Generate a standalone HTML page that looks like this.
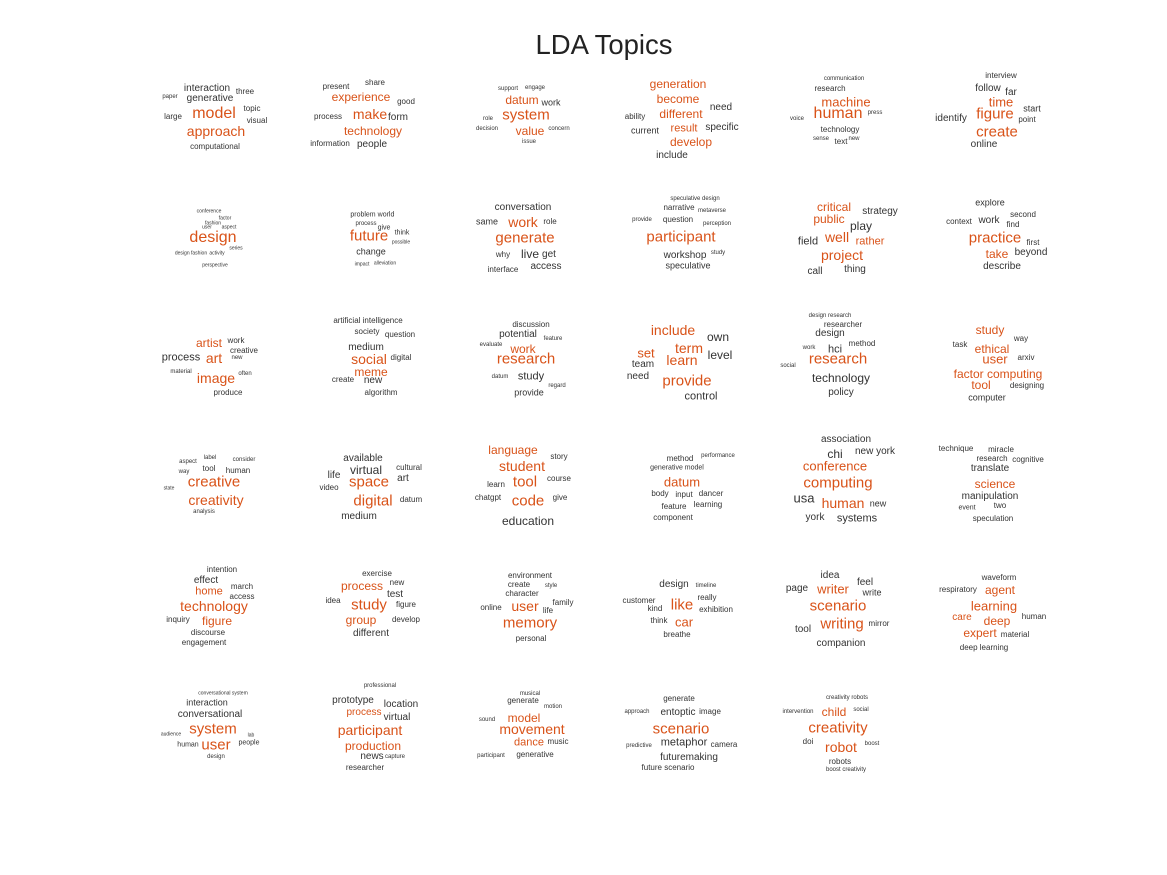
<!DOCTYPE html>
<html><head><meta charset="utf-8"><style>
html,body{margin:0;padding:0;background:#fff}
#c{position:relative;width:1167px;height:875px;overflow:hidden;font-family:"Liberation Sans",Arial,sans-serif}
#c b{position:absolute;font-weight:normal;white-space:nowrap;transform:translate(-50%,-50%);color:#333;line-height:1}
#c b.o{color:#d95319}
h1{position:absolute;left:304px;width:600px;top:29px;margin:0;text-align:center;font-weight:normal;font-size:27.5px;color:#222;font-family:"Liberation Sans",Arial,sans-serif}
</style></head><body><div id="c">
<h1>LDA Topics</h1>
<!-- Row 1 -->
<b style="left:207px;top:89px;font-size:10px">interaction</b><b style="left:245px;top:92px;font-size:8px">three</b><b style="left:170px;top:97px;font-size:6px">paper</b><b style="left:210px;top:99px;font-size:10px">generative</b><b style="left:252px;top:109px;font-size:8px">topic</b><b style="left:173px;top:117px;font-size:8px">large</b><b class="o" style="left:214px;top:114px;font-size:16px">model</b><b style="left:257px;top:121px;font-size:8px">visual</b><b class="o" style="left:216px;top:131px;font-size:14px">approach</b><b style="left:215px;top:147px;font-size:8px">computational</b>
<b style="left:336px;top:87px;font-size:8px">present</b><b style="left:375px;top:83px;font-size:8px">share</b><b class="o" style="left:361px;top:97px;font-size:12px">experience</b><b style="left:406px;top:102px;font-size:8px">good</b><b style="left:328px;top:117px;font-size:8px">process</b><b class="o" style="left:370px;top:114px;font-size:14px">make</b><b style="left:398px;top:118px;font-size:10px">form</b><b class="o" style="left:373px;top:131px;font-size:12px">technology</b><b style="left:330px;top:144px;font-size:8px">information</b><b style="left:372px;top:145px;font-size:10px">people</b>
<b style="left:508px;top:89px;font-size:6px">support</b><b style="left:535px;top:88px;font-size:6px">engage</b><b class="o" style="left:522px;top:100px;font-size:12px">datum</b><b style="left:551px;top:103px;font-size:9px">work</b><b style="left:488px;top:119px;font-size:6px">role</b><b class="o" style="left:526px;top:115px;font-size:15px">system</b><b style="left:487px;top:129px;font-size:6px">decision</b><b class="o" style="left:530px;top:131px;font-size:12px">value</b><b style="left:559px;top:129px;font-size:6px">concern</b><b style="left:529px;top:142px;font-size:6px">issue</b>
<b class="o" style="left:678px;top:84px;font-size:12px">generation</b><b class="o" style="left:678px;top:99px;font-size:12px">become</b><b style="left:721px;top:108px;font-size:10px">need</b><b style="left:635px;top:117px;font-size:8px">ability</b><b class="o" style="left:681px;top:114px;font-size:12px">different</b><b style="left:722px;top:128px;font-size:10px">specific</b><b style="left:645px;top:131px;font-size:9px">current</b><b class="o" style="left:684px;top:129px;font-size:11px">result</b><b class="o" style="left:691px;top:142px;font-size:12px">develop</b><b style="left:672px;top:156px;font-size:10px">include</b>
<b style="left:844px;top:79px;font-size:6px">communication</b><b style="left:830px;top:89px;font-size:8px">research</b><b class="o" style="left:846px;top:102px;font-size:13px">machine</b><b style="left:875px;top:113px;font-size:6px">press</b><b style="left:797px;top:119px;font-size:6px">voice</b><b class="o" style="left:838px;top:114px;font-size:16px">human</b><b style="left:840px;top:130px;font-size:8px">technology</b><b style="left:854px;top:139px;font-size:6px">new</b><b style="left:821px;top:139px;font-size:6px">sense</b><b style="left:841px;top:142px;font-size:8px">text</b>
<b style="left:1001px;top:76px;font-size:8px">interview</b><b style="left:988px;top:89px;font-size:10px">follow</b><b style="left:1011px;top:93px;font-size:10px">far</b><b class="o" style="left:1001px;top:102px;font-size:13px">time</b><b class="o" style="left:995px;top:114px;font-size:15px">figure</b><b style="left:1032px;top:109px;font-size:9px">start</b><b style="left:951px;top:119px;font-size:10px">identify</b><b style="left:1027px;top:120px;font-size:8px">point</b><b class="o" style="left:997px;top:132px;font-size:15px">create</b><b style="left:984px;top:145px;font-size:10px">online</b>
<!-- Row 2 -->
<b style="left:209px;top:212px;font-size:5px">conference</b><b style="left:225px;top:219px;font-size:5px">factor</b><b style="left:213px;top:224px;font-size:5px">fashion</b><b style="left:207px;top:228px;font-size:5px">user</b><b style="left:229px;top:228px;font-size:5px">aspect</b><b class="o" style="left:213px;top:238px;font-size:16px">design</b><b style="left:236px;top:249px;font-size:5px">series</b><b style="left:191px;top:254px;font-size:5px">design fashion</b><b style="left:217px;top:254px;font-size:5px">activity</b><b style="left:215px;top:266px;font-size:5px">perspective</b>
<b style="left:363px;top:215px;font-size:7px">problem</b><b style="left:386px;top:215px;font-size:7px">world</b><b style="left:366px;top:224px;font-size:6px">process</b><b style="left:384px;top:228px;font-size:7px">give</b><b style="left:402px;top:233px;font-size:7px">think</b><b class="o" style="left:369px;top:236px;font-size:15px">future</b><b style="left:401px;top:243px;font-size:5px">possible</b><b style="left:371px;top:252px;font-size:9px">change</b><b style="left:362px;top:265px;font-size:5px">impact</b><b style="left:385px;top:264px;font-size:5px">alleviation</b>
<b style="left:523px;top:208px;font-size:10px">conversation</b><b style="left:487px;top:222px;font-size:9px">same</b><b class="o" style="left:523px;top:222px;font-size:14px">work</b><b style="left:550px;top:222px;font-size:8px">role</b><b class="o" style="left:525px;top:238px;font-size:15px">generate</b><b style="left:503px;top:255px;font-size:8px">why</b><b style="left:530px;top:254px;font-size:12px">live</b><b style="left:549px;top:255px;font-size:10px">get</b><b style="left:546px;top:267px;font-size:10px">access</b><b style="left:503px;top:270px;font-size:8px">interface</b>
<b style="left:695px;top:199px;font-size:6px">speculative design</b><b style="left:679px;top:208px;font-size:8px">narrative</b><b style="left:712px;top:211px;font-size:6px">metaverse</b><b style="left:642px;top:220px;font-size:6px">provide</b><b style="left:678px;top:220px;font-size:8px">question</b><b style="left:717px;top:224px;font-size:6px">perception</b><b class="o" style="left:681px;top:237px;font-size:15px">participant</b><b style="left:685px;top:256px;font-size:10px">workshop</b><b style="left:718px;top:253px;font-size:6px">study</b><b style="left:688px;top:266px;font-size:9px">speculative</b>
<b class="o" style="left:834px;top:207px;font-size:12px">critical</b><b class="o" style="left:829px;top:219px;font-size:12px">public</b><b style="left:880px;top:212px;font-size:10px">strategy</b><b style="left:861px;top:226px;font-size:12px">play</b><b style="left:808px;top:242px;font-size:11px">field</b><b class="o" style="left:837px;top:237px;font-size:14px">well</b><b class="o" style="left:870px;top:242px;font-size:11px">rather</b><b class="o" style="left:842px;top:255px;font-size:14px">project</b><b style="left:815px;top:272px;font-size:10px">call</b><b style="left:855px;top:270px;font-size:10px">thing</b>
<b style="left:990px;top:203px;font-size:9px">explore</b><b style="left:959px;top:222px;font-size:8px">context</b><b style="left:989px;top:221px;font-size:10px">work</b><b style="left:1023px;top:215px;font-size:8px">second</b><b style="left:1013px;top:225px;font-size:8px">find</b><b class="o" style="left:995px;top:238px;font-size:15px">practice</b><b style="left:1033px;top:243px;font-size:8px">first</b><b class="o" style="left:997px;top:254px;font-size:12px">take</b><b style="left:1031px;top:253px;font-size:10px">beyond</b><b style="left:1002px;top:267px;font-size:10px">describe</b>
<!-- Row 3 -->
<b class="o" style="left:209px;top:343px;font-size:12px">artist</b><b style="left:236px;top:341px;font-size:8px">work</b><b style="left:244px;top:351px;font-size:8px">creative</b><b style="left:181px;top:358px;font-size:11px">process</b><b class="o" style="left:214px;top:358px;font-size:14px">art</b><b style="left:237px;top:358px;font-size:6px">new</b><b style="left:181px;top:372px;font-size:6px">material</b><b class="o" style="left:216px;top:378px;font-size:14px">image</b><b style="left:245px;top:374px;font-size:6px">often</b><b style="left:228px;top:393px;font-size:8px">produce</b>
<b style="left:368px;top:321px;font-size:8px">artificial intelligence</b><b style="left:367px;top:332px;font-size:8px">society</b><b style="left:400px;top:335px;font-size:8px">question</b><b style="left:366px;top:348px;font-size:10px">medium</b><b class="o" style="left:369px;top:359px;font-size:14px">social</b><b style="left:401px;top:358px;font-size:8px">digital</b><b class="o" style="left:371px;top:372px;font-size:12px">meme</b><b style="left:343px;top:380px;font-size:8px">create</b><b style="left:373px;top:381px;font-size:10px">new</b><b style="left:381px;top:393px;font-size:8px">algorithm</b>
<b style="left:531px;top:325px;font-size:8px">discussion</b><b style="left:518px;top:335px;font-size:10px">potential</b><b style="left:553px;top:339px;font-size:6px">feature</b><b style="left:491px;top:345px;font-size:6px">evaluate</b><b class="o" style="left:523px;top:349px;font-size:12px">work</b><b class="o" style="left:526px;top:359px;font-size:15px">research</b><b style="left:500px;top:377px;font-size:6px">datum</b><b style="left:531px;top:377px;font-size:11px">study</b><b style="left:557px;top:386px;font-size:6px">regard</b><b style="left:529px;top:393px;font-size:9px">provide</b>
<b class="o" style="left:673px;top:330px;font-size:14px">include</b><b style="left:718px;top:337px;font-size:12px">own</b><b class="o" style="left:689px;top:348px;font-size:14px">term</b><b class="o" style="left:646px;top:353px;font-size:13px">set</b><b style="left:720px;top:355px;font-size:12px">level</b><b class="o" style="left:682px;top:360px;font-size:14px">learn</b><b style="left:643px;top:365px;font-size:10px">team</b><b style="left:638px;top:377px;font-size:10px">need</b><b class="o" style="left:687px;top:381px;font-size:15px">provide</b><b style="left:701px;top:397px;font-size:11px">control</b>
<b style="left:830px;top:316px;font-size:6px">design research</b><b style="left:843px;top:325px;font-size:8px">researcher</b><b style="left:830px;top:334px;font-size:10px">design</b><b style="left:862px;top:344px;font-size:8px">method</b><b style="left:809px;top:348px;font-size:6px">work</b><b style="left:835px;top:350px;font-size:11px">hci</b><b class="o" style="left:838px;top:359px;font-size:15px">research</b><b style="left:788px;top:366px;font-size:6px">social</b><b style="left:841px;top:378px;font-size:12px">technology</b><b style="left:841px;top:393px;font-size:10px">policy</b>
<b class="o" style="left:990px;top:330px;font-size:12px">study</b><b style="left:1021px;top:339px;font-size:8px">way</b><b style="left:960px;top:345px;font-size:8px">task</b><b class="o" style="left:992px;top:349px;font-size:12px">ethical</b><b class="o" style="left:995px;top:359px;font-size:13px">user</b><b style="left:1026px;top:358px;font-size:8px">arxiv</b><b class="o" style="left:998px;top:374px;font-size:12px">factor computing</b><b class="o" style="left:981px;top:385px;font-size:12px">tool</b><b style="left:1027px;top:386px;font-size:8px">designing</b><b style="left:987px;top:398px;font-size:9px">computer</b>
<!-- Row 4 -->
<b style="left:188px;top:462px;font-size:6px">aspect</b><b style="left:210px;top:458px;font-size:6px">label</b><b style="left:244px;top:460px;font-size:6px">consider</b><b style="left:209px;top:469px;font-size:8px">tool</b><b style="left:184px;top:472px;font-size:6px">way</b><b style="left:238px;top:471px;font-size:8px">human</b><b class="o" style="left:214px;top:482px;font-size:15px">creative</b><b style="left:169px;top:489px;font-size:5px">state</b><b class="o" style="left:216px;top:500px;font-size:14px">creativity</b><b style="left:204px;top:512px;font-size:6px">analysis</b>
<b style="left:363px;top:459px;font-size:10px">available</b><b style="left:409px;top:468px;font-size:8px">cultural</b><b style="left:366px;top:470px;font-size:12px">virtual</b><b style="left:334px;top:476px;font-size:10px">life</b><b style="left:403px;top:479px;font-size:10px">art</b><b class="o" style="left:369px;top:482px;font-size:15px">space</b><b style="left:329px;top:488px;font-size:8px">video</b><b class="o" style="left:373px;top:501px;font-size:15px">digital</b><b style="left:411px;top:500px;font-size:8px">datum</b><b style="left:359px;top:517px;font-size:10px">medium</b>
<b class="o" style="left:513px;top:450px;font-size:12px">language</b><b style="left:559px;top:457px;font-size:8px">story</b><b class="o" style="left:522px;top:466px;font-size:14px">student</b><b style="left:496px;top:485px;font-size:8px">learn</b><b class="o" style="left:525px;top:482px;font-size:15px">tool</b><b style="left:559px;top:479px;font-size:8px">course</b><b style="left:488px;top:498px;font-size:8px">chatgpt</b><b class="o" style="left:528px;top:501px;font-size:15px">code</b><b style="left:560px;top:498px;font-size:8px">give</b><b style="left:528px;top:521px;font-size:12px">education</b>
<b style="left:680px;top:459px;font-size:8px">method</b><b style="left:718px;top:456px;font-size:6px">performance</b><b style="left:677px;top:468px;font-size:7px">generative model</b><b class="o" style="left:682px;top:482px;font-size:13px">datum</b><b style="left:660px;top:494px;font-size:8px">body</b><b style="left:684px;top:495px;font-size:8px">input</b><b style="left:711px;top:494px;font-size:8px">dancer</b><b style="left:674px;top:507px;font-size:8px">feature</b><b style="left:708px;top:505px;font-size:8px">learning</b><b style="left:673px;top:518px;font-size:8px">component</b>
<b style="left:846px;top:440px;font-size:10px">association</b><b style="left:835px;top:454px;font-size:12px">chi</b><b style="left:875px;top:452px;font-size:10px">new york</b><b class="o" style="left:835px;top:466px;font-size:13px">conference</b><b class="o" style="left:838px;top:483px;font-size:15px">computing</b><b style="left:804px;top:498px;font-size:13px">usa</b><b class="o" style="left:843px;top:503px;font-size:14px">human</b><b style="left:878px;top:504px;font-size:9px">new</b><b style="left:815px;top:518px;font-size:10px">york</b><b style="left:857px;top:519px;font-size:11px">systems</b>
<b style="left:956px;top:449px;font-size:8px">technique</b><b style="left:1001px;top:450px;font-size:8px">miracle</b><b style="left:992px;top:459px;font-size:8px">research</b><b style="left:1028px;top:460px;font-size:8px">cognitive</b><b style="left:990px;top:469px;font-size:10px">translate</b><b class="o" style="left:995px;top:484px;font-size:12px">science</b><b style="left:990px;top:497px;font-size:10px">manipulation</b><b style="left:967px;top:508px;font-size:7px">event</b><b style="left:1000px;top:506px;font-size:8px">two</b><b style="left:993px;top:519px;font-size:8px">speculation</b>
<!-- Row 5 -->
<b style="left:222px;top:570px;font-size:8px">intention</b><b style="left:206px;top:581px;font-size:10px">effect</b><b style="left:242px;top:587px;font-size:8px">march</b><b class="o" style="left:209px;top:592px;font-size:11px">home</b><b style="left:242px;top:597px;font-size:8px">access</b><b class="o" style="left:214px;top:606px;font-size:14px">technology</b><b style="left:178px;top:620px;font-size:8px">inquiry</b><b class="o" style="left:217px;top:621px;font-size:12px">figure</b><b style="left:208px;top:633px;font-size:8px">discourse</b><b style="left:204px;top:643px;font-size:8px">engagement</b>
<b style="left:377px;top:574px;font-size:8px">exercise</b><b style="left:397px;top:583px;font-size:8px">new</b><b class="o" style="left:362px;top:586px;font-size:12px">process</b><b style="left:395px;top:595px;font-size:10px">test</b><b style="left:333px;top:601px;font-size:8px">idea</b><b class="o" style="left:369px;top:605px;font-size:15px">study</b><b style="left:406px;top:605px;font-size:8px">figure</b><b class="o" style="left:361px;top:620px;font-size:12px">group</b><b style="left:406px;top:620px;font-size:8px">develop</b><b style="left:371px;top:634px;font-size:10px">different</b>
<b style="left:530px;top:576px;font-size:8px">environment</b><b style="left:519px;top:585px;font-size:8px">create</b><b style="left:551px;top:586px;font-size:6px">style</b><b style="left:522px;top:594px;font-size:8px">character</b><b style="left:563px;top:603px;font-size:8px">family</b><b style="left:491px;top:608px;font-size:8px">online</b><b class="o" style="left:525px;top:606px;font-size:14px">user</b><b style="left:548px;top:611px;font-size:8px">life</b><b class="o" style="left:530px;top:623px;font-size:15px">memory</b><b style="left:531px;top:639px;font-size:8px">personal</b>
<b style="left:674px;top:585px;font-size:10px">design</b><b style="left:706px;top:586px;font-size:6px">timeline</b><b style="left:639px;top:601px;font-size:8px">customer</b><b style="left:707px;top:598px;font-size:8px">really</b><b class="o" style="left:682px;top:605px;font-size:15px">like</b><b style="left:655px;top:609px;font-size:8px">kind</b><b style="left:716px;top:610px;font-size:8px">exhibition</b><b style="left:659px;top:621px;font-size:8px">think</b><b class="o" style="left:684px;top:622px;font-size:13px">car</b><b style="left:677px;top:635px;font-size:8px">breathe</b>
<b style="left:830px;top:576px;font-size:10px">idea</b><b style="left:865px;top:583px;font-size:10px">feel</b><b style="left:797px;top:589px;font-size:10px">page</b><b class="o" style="left:833px;top:589px;font-size:13px">writer</b><b style="left:872px;top:593px;font-size:9px">write</b><b class="o" style="left:838px;top:606px;font-size:15px">scenario</b><b style="left:803px;top:630px;font-size:10px">tool</b><b class="o" style="left:842px;top:624px;font-size:15px">writing</b><b style="left:879px;top:624px;font-size:8px">mirror</b><b style="left:841px;top:644px;font-size:10px">companion</b>
<b style="left:999px;top:578px;font-size:8px">waveform</b><b style="left:958px;top:590px;font-size:8px">respiratory</b><b class="o" style="left:1000px;top:590px;font-size:12px">agent</b><b class="o" style="left:994px;top:606px;font-size:13px">learning</b><b style="left:1034px;top:617px;font-size:8px">human</b><b class="o" style="left:962px;top:618px;font-size:10px">care</b><b class="o" style="left:997px;top:621px;font-size:12px">deep</b><b class="o" style="left:980px;top:633px;font-size:12px">expert</b><b style="left:1015px;top:635px;font-size:8px">material</b><b style="left:984px;top:648px;font-size:8px">deep learning</b>
<!-- Row 6 -->
<b style="left:223px;top:694px;font-size:5px">conversational system</b><b style="left:207px;top:703px;font-size:9px">interaction</b><b style="left:210px;top:715px;font-size:10px">conversational</b><b class="o" style="left:213px;top:729px;font-size:15px">system</b><b style="left:171px;top:735px;font-size:5px">audience</b><b style="left:251px;top:736px;font-size:5px">lab</b><b style="left:188px;top:745px;font-size:7px">human</b><b class="o" style="left:216px;top:745px;font-size:15px">user</b><b style="left:249px;top:743px;font-size:7px">people</b><b style="left:216px;top:757px;font-size:6px">design</b>
<b style="left:380px;top:686px;font-size:6px">professional</b><b style="left:353px;top:701px;font-size:10px">prototype</b><b style="left:401px;top:705px;font-size:10px">location</b><b class="o" style="left:364px;top:713px;font-size:10px">process</b><b style="left:397px;top:718px;font-size:10px">virtual</b><b class="o" style="left:370px;top:730px;font-size:14px">participant</b><b class="o" style="left:373px;top:746px;font-size:12px">production</b><b style="left:372px;top:757px;font-size:10px">news</b><b style="left:395px;top:757px;font-size:6px">capture</b><b style="left:365px;top:768px;font-size:8px">researcher</b>
<b style="left:530px;top:694px;font-size:6px">musical</b><b style="left:523px;top:701px;font-size:8px">generate</b><b style="left:553px;top:707px;font-size:6px">motion</b><b class="o" style="left:524px;top:718px;font-size:12px">model</b><b style="left:487px;top:720px;font-size:6px">sound</b><b class="o" style="left:532px;top:729px;font-size:14px">movement</b><b class="o" style="left:529px;top:743px;font-size:11px">dance</b><b style="left:558px;top:742px;font-size:8px">music</b><b style="left:491px;top:756px;font-size:6px">participant</b><b style="left:535px;top:755px;font-size:8px">generative</b>
<b style="left:679px;top:699px;font-size:8px">generate</b><b style="left:637px;top:712px;font-size:6px">approach</b><b style="left:678px;top:713px;font-size:10px">entoptic</b><b style="left:710px;top:712px;font-size:8px">image</b><b class="o" style="left:681px;top:729px;font-size:15px">scenario</b><b style="left:639px;top:746px;font-size:6px">predictive</b><b style="left:684px;top:743px;font-size:11px">metaphor</b><b style="left:724px;top:745px;font-size:8px">camera</b><b style="left:689px;top:758px;font-size:10px">futuremaking</b><b style="left:668px;top:768px;font-size:8px">future scenario</b>
<b style="left:847px;top:698px;font-size:6px">creativity robots</b><b style="left:798px;top:712px;font-size:6px">intervention</b><b class="o" style="left:834px;top:712px;font-size:12px">child</b><b style="left:861px;top:710px;font-size:6px">social</b><b class="o" style="left:838px;top:728px;font-size:15px">creativity</b><b style="left:808px;top:742px;font-size:8px">doi</b><b class="o" style="left:841px;top:747px;font-size:14px">robot</b><b style="left:872px;top:744px;font-size:6px">boost</b><b style="left:840px;top:762px;font-size:8px">robots</b><b style="left:846px;top:770px;font-size:6px">boost creativity</b>
</div></body></html>
